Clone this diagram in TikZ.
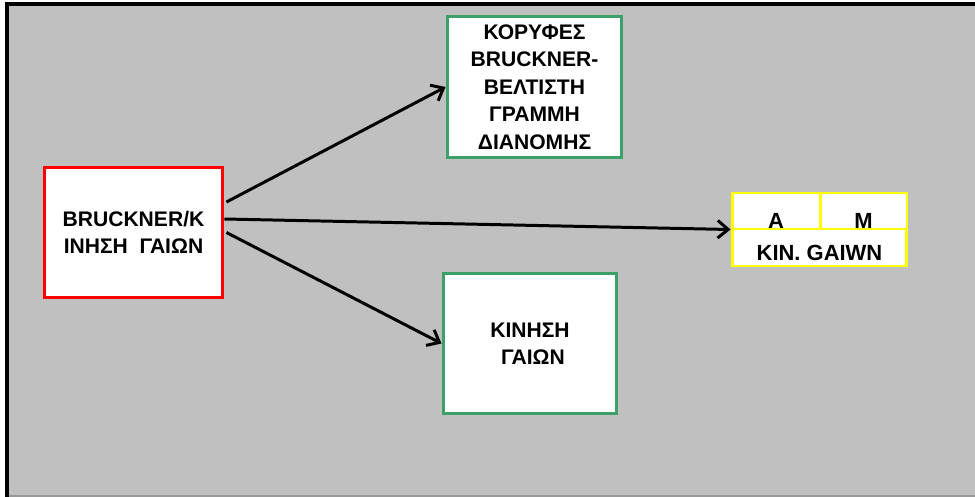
\documentclass[tikz,border=0pt]{standalone}
\usepackage{fontspec}
\setmainfont{Liberation Sans}
\usepackage{xcolor}
\usetikzlibrary{positioning, arrows.meta, calc}

\definecolor{bggray}{RGB}{192,192,192}
\definecolor{boxgreen}{RGB}{60,160,105}
\definecolor{boxred}{RGB}{255,0,0}
\definecolor{cellyellow}{RGB}{255,255,0}

\begin{document}
\begin{tikzpicture}[x=0.02cm, y=-0.02cm,
    box/.style={draw, fill=white, line width=1.7pt, inner sep=1pt, align=center,
        font=\fontsize{12}{15.6}\selectfont\bfseries},
    redbox/.style={box, draw=boxred},
    greenbox/.style={box, draw=boxgreen},
    cell/.style={draw=cellyellow, fill=white, line width=1.7pt, inner sep=0pt,
        font=\fontsize{12.5}{15}\selectfont\bfseries},
    flow/.style={line width=1.7pt, -{Straight Barb[length=6pt, width=10pt]}}]

    % Background and frame
    \useasboundingbox (0,0) rectangle (975,497);
    \fill[bggray] (7,4) rectangle (975,496);
    \draw[gray!80, line width=0.6pt] (7,496) -- (975,496);
    \draw[black, line width=1.8pt] (7,497) -- (7,4) -- (975,4);

    % Source box
    \node[redbox, minimum width=3.58cm, minimum height=2.62cm] (bruck) at (133.5,232.5)
        {BRUCKNER/K\\ΙΝΗΣΗ~~ΓΑΙΩΝ};

    % Upper result
    \node[greenbox, minimum width=3.5cm, minimum height=2.84cm] (koryfes) at (534.5,87)
        {ΚΟΡΥΦΕΣ\\BRUCKNER-\\ΒΕΛΤΙΣΤΗ\\ΓΡΑΜΜΗ\\ΔΙΑΝΟΜΗΣ};

    % Lower result
    \node[greenbox, minimum width=3.48cm, minimum height=2.82cm] (kinisi) at (530,343.5)
        {ΚΙΝΗΣΗ\\~ΓΑΙΩΝ};

    % Small table
    \node[cell, minimum width=1.76cm, minimum height=0.72cm, text height=20pt] (cellA) at (776,211) {A};
    \node[cell, minimum width=1.74cm, minimum height=0.72cm, text height=20pt] (cellM) at (863.5,211) {M};
    \node[cell, minimum width=3.5cm, minimum height=0.74cm, text height=14.5pt] (cellKin) at (819.5,247.5) {KIN. GAIWN};

    % Arrows
    \draw[flow] ($(bruck.east)+(2,-30.5)$) -- (koryfes.west);
    \draw[flow] ($(bruck.east)+(0,-13.5)$) -- ($(cellKin.north west)+(0,2)$);
    \draw[flow] ($(bruck.east)+(2,0)$) -- (kinisi.west);

\end{tikzpicture}
\end{document}
